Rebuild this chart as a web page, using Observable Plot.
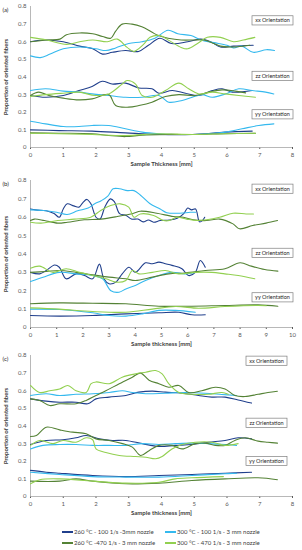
<!DOCTYPE html>
<html>
<head>
<meta charset="utf-8">
<script src="https://cdn.jsdelivr.net/npm/d3@7"></script>
<script src="https://cdn.jsdelivr.net/npm/@observablehq/plot@0.6"></script>
<style>
  html, body { margin: 0; padding: 0; background: #fff; }
  #wrap { position: relative; width: 302px; height: 550px; font-family: Lato, "Open Sans", sans-serif; overflow: hidden; }
  #wrap svg { display: block; }
  .leg { position: absolute; font-size: 6px; color: #404040; white-space: nowrap; line-height: 8px; }
  .sw { position: absolute; height: 2px; width: 11px; }
</style>
</head>
<body>
<div id="wrap"></div>
<script>
// ---------- series ----------
const seriesNames = [
  "260 °C - 100 1/s -3mm nozzle",
  "300 °C - 100 1/s - 3 mm nozzle",
  "260 °C -470 1/s - 3 mm nozzle",
  "300 °C - 470 1/s - 3 mm nozzle"
];
const seriesColors = ["#203f8c", "#35b9ee", "#548235", "#92d050"];
const orientations = ["xx", "zz", "yy"];
const boxLabels = ["xx Orientation", "zz Orientation", "yy Orientation"];
const yTicks = [0, 0.1, 0.2, 0.3, 0.4, 0.5, 0.6, 0.7, 0.8];

// ---------- panel (a) ----------
const a_xx_260_100 = [[0,0.60],[0.4,0.61],[1,0.60],[1.5,0.575],[1.9,0.56],[2.2,0.53],[2.5,0.54],[2.9,0.55],[3.3,0.545],[3.6,0.58],[3.95,0.62],[4.3,0.59],[4.8,0.60],[5.2,0.615],[5.5,0.60],[5.8,0.57],[6.2,0.575],[6.8,0.58]];
const a_xx_300_100 = [[0,0.52],[0.3,0.51],[0.6,0.53],[1,0.56],[1.5,0.57],[2,0.56],[2.3,0.55],[2.6,0.565],[3,0.59],[3.4,0.60],[3.8,0.62],[4.2,0.665],[4.5,0.645],[4.9,0.635],[5.2,0.61],[5.6,0.595],[6.0,0.58],[6.2,0.565],[6.45,0.575],[6.8,0.54],[7.2,0.555],[7.45,0.55]];
const a_xx_260_470 = [[0,0.60],[0.5,0.61],[0.9,0.615],[1.1,0.64],[1.5,0.65],[1.9,0.645],[2.2,0.63],[2.45,0.62],[2.6,0.66],[2.8,0.70],[3.1,0.70],[3.4,0.685],[3.7,0.655],[3.9,0.635],[4.2,0.62],[4.6,0.61],[5.0,0.61],[5.3,0.61],[5.6,0.59],[5.8,0.575],[6.1,0.57],[6.5,0.575],[6.7,0.58]];
const a_xx_300_470 = [[0,0.625],[0.5,0.61],[1.1,0.585],[1.5,0.60],[1.9,0.61],[2.35,0.60],[2.65,0.615],[2.95,0.568],[3.15,0.545],[3.45,0.585],[3.65,0.625],[3.95,0.635],[4.25,0.605],[4.6,0.568],[4.8,0.56],[5.1,0.59],[5.4,0.625],[5.8,0.625],[6.2,0.60],[6.5,0.61],[6.85,0.625]];
const a_zz_260_100 = [[0,0.295],[0.46,0.285],[1,0.295],[1.48,0.323],[1.88,0.346],[2.19,0.376],[2.49,0.36],[2.9,0.365],[3.31,0.338],[3.71,0.333],[3.92,0.308],[4.33,0.323],[4.73,0.308],[5.14,0.295],[5.55,0.323],[5.85,0.333],[6.16,0.314],[6.77,0.323]];
const a_zz_300_100 = [[0,0.323],[0.46,0.333],[1,0.32],[1.48,0.314],[1.88,0.304],[2.39,0.295],[2.9,0.285],[3.41,0.285],[3.92,0.295],[4.22,0.257],[4.63,0.267],[4.94,0.285],[5.24,0.30],[5.55,0.285],[5.95,0.304],[6.36,0.333],[6.77,0.323],[7.18,0.314],[7.43,0.304]];
const a_zz_260_470 = [[0,0.295],[0.25,0.314],[0.56,0.295],[1,0.28],[1.48,0.27],[1.88,0.276],[2.39,0.30],[2.6,0.238],[3.0,0.229],[3.31,0.238],[3.71,0.257],[4.12,0.289],[4.53,0.30],[5.04,0.295],[5.45,0.314],[5.85,0.327],[6.26,0.32],[6.57,0.31]];
const a_zz_300_470 = [[0,0.29],[0.46,0.30],[1,0.308],[1.48,0.314],[1.98,0.295],[2.39,0.304],[2.8,0.36],[2.95,0.38],[3.21,0.36],[3.41,0.295],[3.71,0.285],[4.12,0.323],[4.53,0.365],[4.83,0.333],[5.14,0.304],[5.55,0.314],[5.95,0.304],[6.36,0.295],[6.87,0.285]];
const a_yy_260_100 = [[0,0.10],[0.87,0.096],[1.88,0.093],[2.9,0.083],[3.92,0.074],[4.94,0.074],[5.95,0.087],[6.77,0.093]];
const a_yy_300_100 = [[0,0.149],[0.46,0.134],[1,0.119],[1.48,0.119],[1.88,0.125],[2.39,0.125],[2.9,0.106],[3.41,0.087],[3.92,0.078],[4.43,0.074],[4.94,0.074],[5.55,0.081],[5.95,0.087],[6.46,0.106],[6.97,0.125],[7.43,0.134]];
const a_yy_260_470 = [[0,0.083],[0.87,0.081],[1.88,0.078],[2.39,0.068],[2.9,0.062],[3.41,0.07],[4.12,0.074],[4.94,0.074],[5.95,0.078],[6.87,0.081]];
const a_yy_300_470 = [[0,0.081],[0.87,0.078],[1.88,0.074],[2.9,0.068],[3.92,0.078],[4.94,0.074],[5.95,0.078],[6.87,0.081]];

// ---------- panel (b) ----------
const b_xx_260_100 = [[0,0.645],[0.2,0.64],[0.6,0.635],[0.9,0.62],[1.1,0.60],[1.25,0.645],[1.4,0.673],[1.65,0.662],[1.85,0.655],[2.0,0.68],[2.15,0.697],[2.3,0.675],[2.5,0.60],[2.65,0.59],[2.85,0.66],[3.05,0.70],[3.2,0.685],[3.4,0.62],[3.65,0.61],[3.85,0.59],[4.1,0.59],[4.3,0.575],[4.5,0.585],[4.7,0.573],[4.95,0.582],[5.3,0.585],[5.6,0.595],[5.85,0.62],[6.0,0.65],[6.15,0.64],[6.3,0.645],[6.45,0.575],[6.55,0.58],[6.65,0.60]];
const b_xx_300_100 = [[0,0.64],[0.5,0.637],[1.0,0.627],[1.4,0.615],[1.8,0.635],[2.2,0.65],[2.45,0.673],[2.7,0.69],[2.95,0.715],[3.15,0.755],[3.4,0.755],[3.7,0.745],[3.95,0.745],[4.2,0.72],[4.55,0.675],[4.95,0.645],[5.2,0.625],[5.7,0.622],[6.1,0.627],[6.3,0.627]];
const b_xx_260_470 = [[0,0.582],[0.15,0.59],[0.53,0.582],[1.04,0.568],[1.41,0.573],[2.05,0.586],[2.68,0.59],[3.31,0.604],[3.94,0.622],[4.19,0.633],[4.82,0.622],[5.45,0.604],[5.83,0.60],[6.21,0.586],[6.72,0.582],[7.22,0.59],[7.73,0.564],[7.98,0.537],[8.48,0.555],[8.99,0.568],[9.43,0.582]];
const b_xx_300_470 = [[0,0.573],[0.4,0.568],[1.04,0.582],[1.67,0.59],[2.3,0.60],[2.68,0.637],[3.06,0.664],[3.43,0.673],[3.75,0.655],[3.95,0.60],[4.19,0.618],[4.7,0.61],[5.08,0.582],[5.3,0.582],[5.58,0.60],[5.96,0.59],[6.34,0.582],[6.72,0.586],[7.22,0.60],[7.73,0.622],[8.23,0.618],[8.51,0.618]];
const b_zz_260_100 = [[0,0.30],[0.35,0.292],[0.6,0.31],[0.92,0.34],[1.1,0.328],[1.36,0.265],[1.74,0.292],[2.06,0.283],[2.37,0.265],[2.63,0.345],[2.8,0.265],[3.0,0.238],[3.26,0.247],[3.5,0.292],[3.76,0.328],[4.0,0.30],[4.39,0.352],[4.65,0.347],[4.9,0.356],[5.15,0.347],[5.4,0.338],[5.78,0.32],[6.03,0.283],[6.29,0.30],[6.48,0.365],[6.67,0.328]];
const b_zz_300_100 = [[0,0.25],[0.48,0.274],[1.1,0.30],[1.74,0.292],[2.37,0.283],[2.75,0.265],[3.07,0.20],[3.38,0.192],[3.64,0.21],[4.0,0.229],[4.39,0.256],[4.9,0.283],[5.4,0.30],[5.9,0.292],[6.29,0.30]];
const b_zz_260_470 = [[0,0.30],[0.6,0.305],[1.1,0.31],[1.74,0.30],[2.37,0.287],[3.0,0.274],[3.64,0.265],[4.0,0.256],[4.65,0.274],[5.28,0.292],[5.9,0.297],[6.67,0.31],[7.42,0.32],[8.0,0.352],[8.43,0.334],[8.94,0.316],[9.44,0.307]];
const b_zz_300_470 = [[0,0.323],[0.35,0.334],[0.86,0.30],[1.36,0.32],[1.87,0.30],[2.37,0.283],[2.88,0.265],[3.26,0.247],[3.64,0.256],[3.89,0.31],[4.14,0.292],[4.65,0.30],[5.15,0.31],[5.66,0.292],[6.29,0.30],[6.92,0.30],[7.42,0.292],[7.93,0.283],[8.56,0.265]];
const b_yy_260_100 = [[0,0.065],[1.1,0.062],[2.37,0.065],[3.64,0.074],[4.9,0.08],[5.66,0.083],[6.16,0.069],[6.67,0.069]];
const b_yy_300_100 = [[0,0.10],[1.1,0.098],[2.37,0.08],[3.0,0.065],[3.64,0.062],[4.27,0.074],[4.9,0.093],[5.53,0.093],[6.29,0.083]];
const b_yy_260_470 = [[0,0.129],[1.1,0.134],[2.37,0.132],[3.64,0.129],[4.9,0.116],[6.16,0.116],[7.42,0.12],[8.69,0.123],[9.44,0.116]];
const b_yy_300_470 = [[0,0.107],[1.1,0.10],[2.37,0.087],[3.64,0.083],[4.65,0.10],[5.53,0.114],[6.41,0.105],[7.42,0.114],[8.69,0.12],[9.0,0.118]];

// ---------- panel (c) ----------
const c_xx_260_100 = [[0,0.554],[0.48,0.541],[0.89,0.535],[1.39,0.535],[1.75,0.526],[2.0,0.554],[2.4,0.564],[2.91,0.573],[3.31,0.592],[3.72,0.598],[4.12,0.592],[4.63,0.586],[5.13,0.573],[5.54,0.564],[5.94,0.564],[6.34,0.548],[6.75,0.53]];
const c_xx_300_100 = [[0,0.573],[0.48,0.583],[0.89,0.573],[1.39,0.58],[1.9,0.583],[2.4,0.59],[2.81,0.60],[3.11,0.59],[3.52,0.583],[4.12,0.586],[4.73,0.59],[5.33,0.586],[5.84,0.579],[6.29,0.573]];
const c_xx_260_470 = [[0,0.554],[0.28,0.545],[0.59,0.516],[0.89,0.526],[1.39,0.526],[1.7,0.545],[2.0,0.573],[2.3,0.60],[2.71,0.64],[3.11,0.677],[3.36,0.70],[3.62,0.66],[3.92,0.64],[4.22,0.62],[4.53,0.63],[4.83,0.59],[5.23,0.60],[5.64,0.62],[5.94,0.61],[6.24,0.573],[6.55,0.567],[6.95,0.58],[7.25,0.59],[7.54,0.597]];
const c_xx_300_470 = [[0,0.63],[0.28,0.59],[0.59,0.60],[0.89,0.61],[1.14,0.63],[1.39,0.60],[1.7,0.59],[1.85,0.64],[2.0,0.65],[2.4,0.64],[2.8,0.677],[3.21,0.696],[3.52,0.705],[3.82,0.715],[4.02,0.696],[4.22,0.64],[4.53,0.59],[4.93,0.58],[5.43,0.58],[5.84,0.59],[6.04,0.58]];
const c_zz_260_100 = [[0,0.295],[0.48,0.318],[0.99,0.322],[1.39,0.333],[1.7,0.346],[2.1,0.327],[2.5,0.318],[2.91,0.318],[3.41,0.30],[3.92,0.284],[4.42,0.29],[4.93,0.295],[5.43,0.308],[5.94,0.318],[6.34,0.333],[6.75,0.327]];
const c_zz_300_100 = [[0,0.27],[0.38,0.29],[0.89,0.295],[1.39,0.295],[1.9,0.29],[2.4,0.29],[2.91,0.29],[3.41,0.30],[3.92,0.295],[4.42,0.30],[4.93,0.303],[5.43,0.30],[5.94,0.295],[6.29,0.29]];
const c_zz_260_470 = [[0,0.34],[0.18,0.346],[0.48,0.393],[0.89,0.378],[1.29,0.365],[1.7,0.356],[2.0,0.327],[2.4,0.318],[2.81,0.30],[3.11,0.28],[3.36,0.233],[3.62,0.26],[3.92,0.29],[4.32,0.29],[4.63,0.27],[5.03,0.30],[5.33,0.303],[5.64,0.29],[5.94,0.29],[6.24,0.318],[6.55,0.333],[6.95,0.314],[7.25,0.308],[7.54,0.303]];
const c_zz_300_470 = [[0,0.29],[0.28,0.318],[0.69,0.30],[0.99,0.318],[1.39,0.308],[1.7,0.333],[1.9,0.322],[2.0,0.27],[2.3,0.25],[2.71,0.233],[3.21,0.227],[3.52,0.223],[3.82,0.214],[4.02,0.227],[4.32,0.27],[4.63,0.295],[5.03,0.308],[5.54,0.308],[5.94,0.29],[6.34,0.30]];
const c_yy_260_100 = [[0,0.148],[0.48,0.138],[0.89,0.132],[1.9,0.119],[2.91,0.113],[3.92,0.119],[4.93,0.125],[5.94,0.132],[6.75,0.138]];
const c_yy_300_100 = [[0,0.138],[0.89,0.125],[1.9,0.113],[2.91,0.11],[3.92,0.11],[4.93,0.119],[5.94,0.129],[6.29,0.132]];
const c_yy_260_470 = [[0,0.087],[0.89,0.087],[1.39,0.10],[1.9,0.087],[2.91,0.072],[3.92,0.076],[4.93,0.091],[5.94,0.10],[6.95,0.106],[7.54,0.095]];
const c_yy_300_470 = [[0,0.072],[0.28,0.095],[0.89,0.10],[1.9,0.087],[2.91,0.076],[3.92,0.081],[4.42,0.10],[4.93,0.106],[5.89,0.113]];

// ---------- tables built from the arrays ----------
function rowsOf(groups) {
  const out = [];
  groups.forEach((orientSeries, oi) => {
    orientSeries.forEach((pts, si) => {
      pts.forEach(([x, y]) => out.push({orient: orientations[oi], series: seriesNames[si], x, y}));
    });
  });
  return out;
}
const panelA = rowsOf([
  [a_xx_260_100, a_xx_300_100, a_xx_260_470, a_xx_300_470],
  [a_zz_260_100, a_zz_300_100, a_zz_260_470, a_zz_300_470],
  [a_yy_260_100, a_yy_300_100, a_yy_260_470, a_yy_300_470]
]);
const panelB = rowsOf([
  [b_xx_260_100, b_xx_300_100, b_xx_260_470, b_xx_300_470],
  [b_zz_260_100, b_zz_300_100, b_zz_260_470, b_zz_300_470],
  [b_yy_260_100, b_yy_300_100, b_yy_260_470, b_yy_300_470]
]);
const panelC = rowsOf([
  [c_xx_260_100, c_xx_300_100, c_xx_260_470, c_xx_300_470],
  [c_zz_260_100, c_zz_300_100, c_zz_260_470, c_zz_300_470],
  [c_yy_260_100, c_yy_300_100, c_yy_260_470, c_yy_300_470]
]);

const wrap = document.getElementById("wrap");

function panel({rows, xmax, tag, xTitle, boxY, boxDx, height, marginTop, marginBottom}) {
  const boxes = boxLabels.map((label, i) => ({label, y: boxY[i]}));
  const svg = Plot.plot({
    width: 302, height, marginLeft: 30, marginRight: 10, marginTop, marginBottom,
    style: {fontFamily: "Lato, 'Open Sans', sans-serif", fontSize: "6px", color: "#595959", background: "white", overflow: "visible"},
    x: {domain: [0, xmax], ticks: d3.range(0, xmax + 1), tickSize: 2, tickPadding: 3, label: null, tickFormat: d3.format("d")},
    y: {domain: [0, 0.8], ticks: yTicks, tickSize: 0, tickPadding: 4, label: null, tickFormat: d => String(+d.toFixed(1))},
    color: {domain: seriesNames, range: seriesColors},
    marks: [
      Plot.ruleY([0], {stroke: "#a6a6a6", strokeWidth: 0.8}),
      Plot.ruleX([0], {stroke: "#a6a6a6", strokeWidth: 0.8}),
      Plot.line(rows, {x: "x", y: "y", z: d => d.orient + "|" + d.series, stroke: "series", strokeWidth: 1.1, curve: "catmull-rom"}),
      Plot.text(boxes, {y: "y", frameAnchor: "right", dx: boxDx, text: "label", textAnchor: "middle", fill: "#262626", fontSize: 5.5, ariaDescription: "orient-box"}),
      Plot.text([tag], {frameAnchor: "top-left", text: d => d, dx: -28, dy: 1, textAnchor: "start", fill: "#262626", fontSize: 6}),
      Plot.text([xTitle], {frameAnchor: "bottom", text: d => d, dy: 18, textAnchor: "middle", fill: "#404040", fontWeight: "bold", fontSize: 6}),
      Plot.text(["Proportion of oriented fibers"], {frameAnchor: "left", text: d => d, dx: -24, rotate: -90, textAnchor: "middle", fill: "#404040", fontWeight: "bold", fontSize: 6})
    ]
  });
  wrap.appendChild(svg);
  // outline boxes around the orientation labels
  const labels = Array.from(svg.querySelectorAll("text")).filter(t => boxLabels.includes(t.textContent));
  labels.forEach(t => {
    const b = t.getBBox();
    const cx = b.x + b.width / 2, cy = b.y + b.height / 2;
    const r = document.createElementNS("http://www.w3.org/2000/svg", "rect");
    r.setAttribute("x", cx - 20.5); r.setAttribute("y", cy - 4.6);
    r.setAttribute("width", 41); r.setAttribute("height", 9.2);
    r.setAttribute("fill", "white"); r.setAttribute("stroke", "#7f7f7f"); r.setAttribute("stroke-width", 0.7);
    const tr = t.getAttribute("transform");
    if (tr) r.setAttribute("transform", tr);
    t.parentNode.insertBefore(r, t);
  });
}

panel({rows: panelA, xmax: 8, tag: "(a)", xTitle: "Sample Thickness [mm]", boxY: [0.72, 0.405, 0.187], boxDx: -20, height: 170, marginTop: 6, marginBottom: 23});
panel({rows: panelB, xmax: 10, tag: "(b)", xTitle: "Sample thickness [mm]", boxY: [0.754, 0.405, 0.163], boxDx: -20, height: 179, marginTop: 10, marginBottom: 22});
panel({rows: panelC, xmax: 8, tag: "(c)", xTitle: "Sample thickness [mm]", boxY: [0.769, 0.417, 0.20], boxDx: -26, height: 169, marginTop: 6, marginBottom: 22});

// ---------- legend ----------
const legendPos = [[62, 532], [165, 532], [62, 543], [165, 543]];
const legendOrder = [0, 1, 2, 3];
legendOrder.forEach((si, i) => {
  const [lx, ly] = legendPos[i];
  const sw = document.createElement("div");
  sw.className = "sw";
  sw.style.left = lx + "px"; sw.style.top = (ly - 1) + "px";
  sw.style.background = seriesColors[si];
  wrap.appendChild(sw);
  const tx = document.createElement("div");
  tx.className = "leg";
  tx.style.left = (lx + 12) + "px"; tx.style.top = (ly - 4) + "px";
  tx.textContent = seriesNames[si];
  wrap.appendChild(tx);
});
</script>
</body>
</html>
